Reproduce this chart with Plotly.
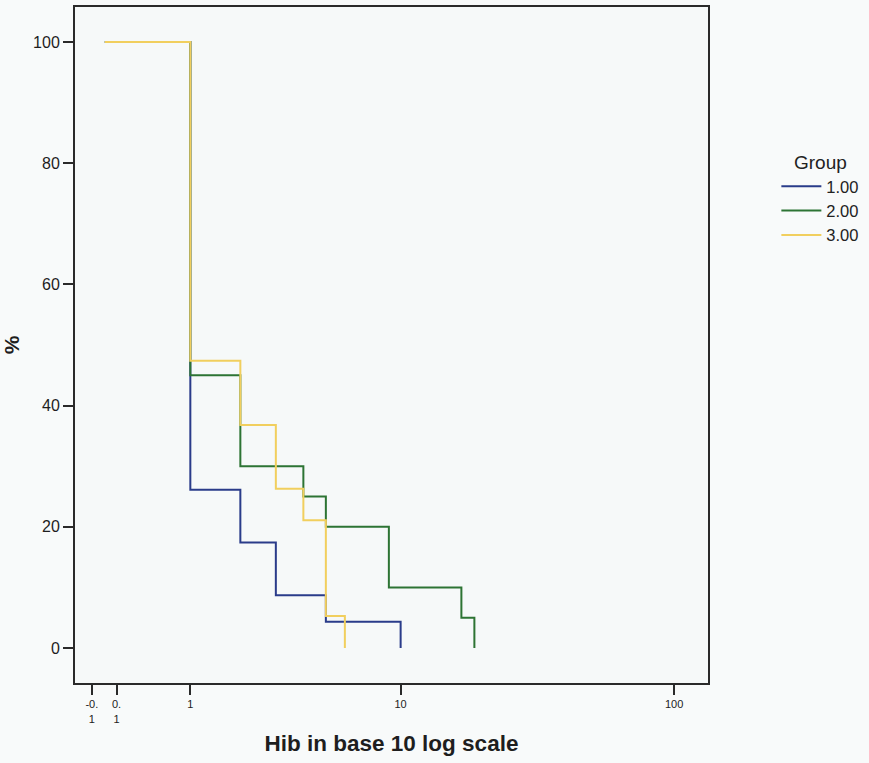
import numpy as np
import plotly.graph_objects as go

# Step curves: percentage of each group at or above each Hib level
groups = ["1.00", "2.00", "3.00"]
g1_hib = [0, 1, 2, 3, 5, 10]
g1_pct = [100, 26.1, 17.4, 8.7, 4.35, 0]
g2_hib = [0, 1, 2, 4, 5, 9, 17, 19]
g2_pct = [100, 45, 30, 25, 20, 10, 5, 0]
g3_hib = [0, 1, 2, 3, 4, 5, 6]
g3_pct = [100, 47.4, 36.8, 26.3, 21.1, 5.3, 0]

tick_vals = [-0.1, 0.1, 1, 10, 100]
tick_text = ["-0.<br>1", "0.<br>1", "1", "10", "100"]
y_ticks = [0, 20, 40, 60, 80, 100]

colors = ["#2a3c8a", "#2d7434", "#f1cf5e"]
widths = [2, 2, 2]


def to_axis(v):
    # log10(Hib + 1) keeps zero and small values on the axis
    return np.log10(np.asarray(v, dtype=float) + 1.0)


font = "Liberation Sans, Arial, sans-serif"
fig = go.Figure()
for name, xs, ys, c, w in zip(groups, [g1_hib, g2_hib, g3_hib],
                              [g1_pct, g2_pct, g3_pct], colors, widths):
    fig.add_trace(go.Scatter(
        x=to_axis(xs), y=ys, mode="lines", name=name,
        line=dict(color=c, width=w, shape="hv"),
    ))

fig.update_layout(
    width=869, height=763,
    margin=dict(l=75, r=160, t=5, b=80),
    paper_bgcolor="#f8fafa",
    plot_bgcolor="#f6f9f9",
    font=dict(family=font, color="#1e1e1e"),
    showlegend=True,
    legend=dict(
        title=dict(text="Group", font=dict(size=19, color="#222"), side="top center"),
        x=1.108, xanchor="left", y=0.797, yanchor="top",
        font=dict(size=16.5, color="#222"),
        itemwidth=40, tracegroupgap=0,
        bgcolor="rgba(0,0,0,0)",
    ),
)
fig.update_xaxes(
    range=[-0.105, 2.1235],
    tickmode="array", tickvals=to_axis(tick_vals), ticktext=tick_text,
    tickfont=dict(size=11, color="#222"),
    ticks="outside", ticklen=10, tickwidth=2, tickcolor="#2a2a2a",
    showline=True, linecolor="#2a2a2a", linewidth=2, mirror=True,
    showgrid=False, zeroline=False,
    title=dict(text="<b>Hib in base 10 log scale</b>", font=dict(size=22.5, color="#1e1e1e"), standoff=12),
)
fig.update_yaxes(
    range=[-5.76, 105.76],
    tickmode="array", tickvals=y_ticks,
    tickfont=dict(size=16, color="#1e1e1e"),
    ticks="outside", ticklen=10, tickwidth=2, tickcolor="#2a2a2a",
    showline=True, linecolor="#2a2a2a", linewidth=2, mirror=True,
    showgrid=False, zeroline=False,
    title=dict(text="<b>%</b>", font=dict(size=21, color="#1e1e1e"), standoff=10),
)

fig.write_html("out.html")
